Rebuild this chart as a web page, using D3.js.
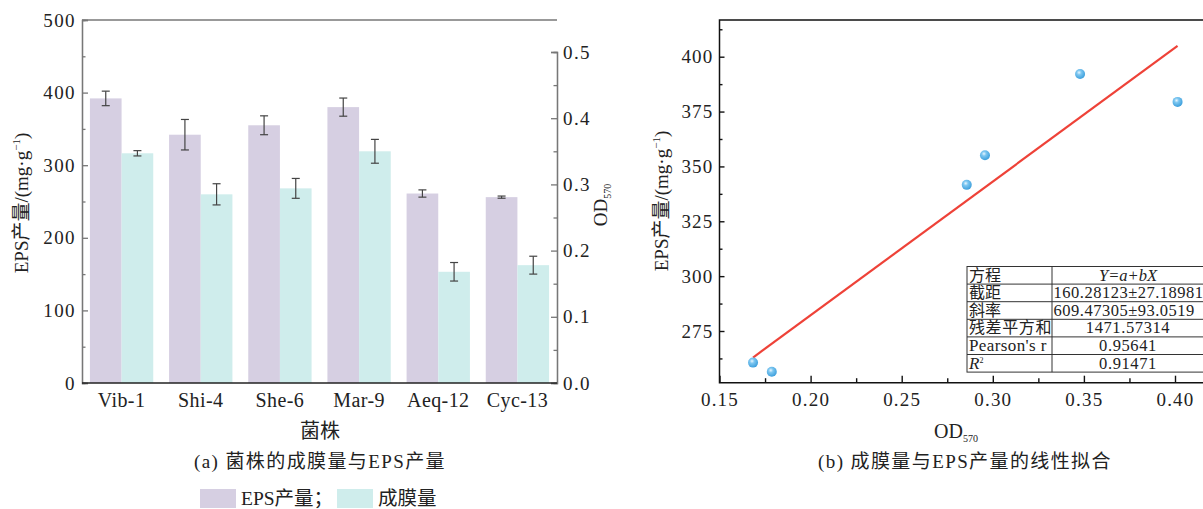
<!DOCTYPE html>
<html>
<head>
<meta charset="utf-8">
<script src="https://cdn.jsdelivr.net/npm/d3@7"></script>
<style>
body { margin: 0; background: #fff; }
svg text { font-family: "Liberation Serif", "Noto Sans CJK SC", serif; fill: #222; }
</style>
</head>
<body>
<svg width="1203" height="509"></svg>
<script>
// (a) bars
const strains = ["Vib-1", "Shi-4", "She-6", "Mar-9", "Aeq-12", "Cyc-13"];
const epsValues = [392, 342, 355, 380, 261, 256];
const epsErrors = [10, 21, 13, 12.5, 5, 1.5];
const odValues = [0.347, 0.285, 0.294, 0.350, 0.168, 0.178];
const odErrors = [0.004, 0.016, 0.015, 0.018, 0.014, 0.0135];
const epsTicks = [0, 100, 200, 300, 400, 500];
const odTicks = [0, 0.1, 0.2, 0.3, 0.4, 0.5];
const legendNames = ["EPS产量；", "成膜量"];

// (b) linear fit
const fitOD = [0.1684, 0.1787, 0.2857, 0.2957, 0.3479, 0.4014];
const fitEPS = [260.6, 256.4, 341.6, 355.1, 392.1, 379.4];
const fitIntercept = 160.28123;
const fitSlope = 609.47305;
const fitXTicks = [0.15, 0.20, 0.25, 0.30, 0.35, 0.40];
const fitYTicks = [275, 300, 325, 350, 375, 400];
const tableLabels = ["方程", "截距", "斜率", "残差平方和", "Pearson's r", "R2"];
const tableValues = ["Y=a+bX", "160.28123±27.18981", "609.47305±93.0519", "1471.57314", "0.95641", "0.91471"];

const PURPLE = "#d6cfe2";
const CYAN = "#cfedec";
const svg = d3.select("svg");

// ---------- panel (a) ----------
const aLeft = 82, aRight = 557, aTop = 20, aBottom = 383;

const x0 = d3.scaleBand().domain(strains).range([aLeft, aRight])
  .paddingInner(0.2).paddingOuter(0.1);
const x1 = d3.scaleBand().domain(["eps", "od"]).range([0, x0.bandwidth()]);
const yL = d3.scaleLinear().domain([0, 500]).range([aBottom, aTop]);
const yR = d3.scaleLinear().domain([0, 0.5]).range([aBottom, 52]);

const rows = strains.map((s, i) => ({
  s, eps: epsValues[i], epsErr: epsErrors[i], od: odValues[i], odErr: odErrors[i]
}));

const groups = svg.append("g").selectAll("g").data(rows).enter().append("g")
  .attr("transform", d => `translate(${x0(d.s)},0)`);

groups.append("rect")
  .attr("x", x1("eps")).attr("width", x1.bandwidth())
  .attr("y", d => yL(d.eps)).attr("height", d => yL(0) - yL(d.eps))
  .attr("fill", PURPLE);
groups.append("rect")
  .attr("x", x1("od")).attr("width", x1.bandwidth())
  .attr("y", d => yR(d.od)).attr("height", d => yR(0) - yR(d.od))
  .attr("fill", CYAN);

function errBar(g, cx, top, bot) {
  g.append("line").attr("x1", cx).attr("x2", cx).attr("y1", top).attr("y2", bot);
  g.append("line").attr("x1", cx - 4).attr("x2", cx + 4).attr("y1", top).attr("y2", top);
  g.append("line").attr("x1", cx - 4).attr("x2", cx + 4).attr("y1", bot).attr("y2", bot);
}
groups.each(function (d) {
  const g = d3.select(this).append("g").attr("stroke", "#444").attr("stroke-width", 1.2);
  const ce = x1("eps") + x1.bandwidth() / 2;
  const co = x1("od") + x1.bandwidth() / 2;
  errBar(g, ce, yL(d.eps + d.epsErr), yL(d.eps - d.epsErr));
  errBar(g, co, yR(d.od + d.odErr), yR(d.od - d.odErr));
});

// frame
svg.append("line").attr("x1", aLeft).attr("x2", aRight).attr("y1", aTop).attr("y2", aTop)
  .attr("stroke", "#777").attr("stroke-width", 1.3);

const axL = svg.append("g").attr("transform", `translate(${aLeft},0)`)
  .call(d3.axisLeft(yL).tickValues(epsTicks).tickSize(-6).tickPadding(6));
svg.append("g").attr("transform", `translate(${aLeft},0)`)
  .call(d3.axisLeft(yL).tickValues(d3.range(50, 500, 100)).tickSize(-3.5).tickFormat(""));
const axR = svg.append("g").attr("transform", `translate(${aRight},0)`)
  .call(d3.axisRight(yR).tickValues(odTicks).tickSize(-6).tickPadding(6).tickFormat(d3.format(".1f")));
svg.append("g").attr("transform", `translate(${aRight},0)`)
  .call(d3.axisRight(yR).tickValues(d3.range(0.05, 0.55, 0.1)).tickSize(-3.5).tickFormat(""));
svg.selectAll("g.tick line").attr("stroke", "#777").attr("stroke-width", 1.3);
svg.selectAll(".domain").attr("stroke", "#777").attr("stroke-width", 1.3);

const axB = svg.append("g").attr("transform", `translate(0,${aBottom})`)
  .call(d3.axisBottom(x0).tickSize(0).tickPadding(10));
axB.select(".domain").attr("stroke", "#222").attr("stroke-width", 1.5)
  .attr("d", `M${aLeft},0H${aRight}`);

[axL, axR].forEach(a => a.selectAll("text")
  .style("font-size", "19px").style("letter-spacing", "1.4px").attr("fill", "#222"));
axB.selectAll("text").style("font-size", "20px").style("letter-spacing", "0.4px")
  .attr("fill", "#222").attr("dy", "0.7em");

// axis titles (a)
svg.append("text").attr("x", 320).attr("y", 438).attr("text-anchor", "middle")
  .style("font-size", "20px").text("菌株");
const tL = svg.append("text").attr("transform", "translate(28,203) rotate(-90)")
  .attr("text-anchor", "middle").style("font-size", "19px");
tL.append("tspan").text("EPS产量/(mg·g");
tL.append("tspan").attr("dy", -8).style("font-size", "11px").text("−1");
tL.append("tspan").attr("dy", 8).text(")");
const tR = svg.append("text").attr("transform", "translate(607,205) rotate(-90)")
  .attr("text-anchor", "middle").style("font-size", "19px");
tR.append("tspan").text("OD");
tR.append("tspan").attr("dy", 4).style("font-size", "10px").text("570");

svg.append("text").attr("x", 320).attr("y", 468).attr("text-anchor", "middle")
  .style("font-size", "19px").style("letter-spacing", "1.4px").text("(a) 菌株的成膜量与EPS产量");

// legend
const legend = svg.append("g").selectAll("g").data(legendNames).enter().append("g")
  .attr("transform", (d, i) => `translate(${i === 0 ? 200 : 337},489)`);
legend.append("rect").attr("width", 36).attr("height", 19)
  .attr("fill", (d, i) => i === 0 ? PURPLE : CYAN);
legend.append("text").attr("x", 41).attr("y", 16).style("font-size", "19.5px").text(d => d);

// ---------- panel (b) ----------
const bLeft = 719.5, bRight = 1203, bTop = 20, bBottom = 382.7;
const xB = d3.scaleLinear().domain([0.15, 0.40]).range([bLeft, 1175]);
const yB = d3.scaleLinear().domain([275, 400]).range([331, 56.7]);

const axBL = svg.append("g").attr("transform", `translate(${bLeft},0)`)
  .call(d3.axisLeft(yB).tickValues(fitYTicks).tickSize(-5).tickPadding(6));
const axBLm = svg.append("g").attr("transform", `translate(${bLeft},0)`)
  .call(d3.axisLeft(yB).tickValues(d3.range(262.5, 416, 25)).tickSize(-3).tickFormat(""));
const axBB = svg.append("g").attr("transform", `translate(0,${bBottom})`)
  .call(d3.axisBottom(xB).tickValues(fitXTicks).tickSize(-7).tickPadding(9).tickFormat(d3.format(".2f")));
const axBBm = svg.append("g").attr("transform", `translate(0,${bBottom})`)
  .call(d3.axisBottom(xB).tickValues(d3.range(0.175, 0.44, 0.05)).tickSize(-4.5).tickFormat(""));
[axBL, axBLm, axBB, axBBm].forEach(a => {
  a.selectAll(".domain").remove();
  a.selectAll("line").attr("stroke", "#111").attr("stroke-width", 1.4);
});
[axBL, axBB].forEach(a => a.selectAll("text")
  .style("font-size", "19px").style("letter-spacing", "1.2px").attr("fill", "#222"));
axBB.selectAll("text").attr("dy", "0.75em");

svg.append("path").attr("fill", "none").attr("stroke", "#111").attr("stroke-width", 1.5)
  .attr("d", `M${bRight + 2},${bTop}H${bLeft}V${bBottom}H${bRight + 2}`);

// fit line
const xmin = d3.min(fitOD), xmax = d3.max(fitOD);
svg.append("line")
  .attr("x1", xB(xmin)).attr("y1", yB(fitIntercept + fitSlope * xmin))
  .attr("x2", xB(xmax)).attr("y2", yB(fitIntercept + fitSlope * xmax))
  .attr("stroke", "#ee4238").attr("stroke-width", 2.2);

// points
const grad = svg.append("defs").append("radialGradient").attr("id", "ball")
  .attr("cx", "40%").attr("cy", "35%").attr("r", "65%");
grad.append("stop").attr("offset", "0%").attr("stop-color", "#e8f6ff");
grad.append("stop").attr("offset", "35%").attr("stop-color", "#7cc6f0");
grad.append("stop").attr("offset", "100%").attr("stop-color", "#3d9fdc");
svg.append("g").selectAll("circle").data(fitOD).enter().append("circle")
  .attr("cx", d => xB(d)).attr("cy", (d, i) => yB(fitEPS[i])).attr("r", 5)
  .attr("fill", "url(#ball)");

// table
const tX = 967, tDiv = 1052, tTop = 266.5, rowH = 17.6;
const tab = svg.append("g");
tab.append("rect").attr("x", tX).attr("y", tTop).attr("width", 250).attr("height", rowH * tableLabels.length)
  .attr("fill", "#fff").attr("stroke", "#333").attr("stroke-width", 1);
tab.selectAll("line.h").data(d3.range(1, tableLabels.length)).enter().append("line")
  .attr("x1", tX).attr("x2", 1217).attr("y1", d => tTop + d * rowH).attr("y2", d => tTop + d * rowH)
  .attr("stroke", "#333");
tab.append("line").attr("x1", tDiv).attr("x2", tDiv).attr("y1", tTop).attr("y2", tTop + rowH * tableLabels.length)
  .attr("stroke", "#333");
tableLabels.forEach((lab, i) => {
  const y = tTop + (i + 1) * rowH - 3.5;
  const t = tab.append("text").attr("x", tX + 2).attr("y", y).style("font-size", "17px");
  if (lab === "R2") {
    t.append("tspan").style("font-style", "italic").text("R");
    t.append("tspan").attr("dy", -6).style("font-size", "8px").text("2");
  } else if (/[A-Za-z]/.test(lab)) {
    t.style("letter-spacing", "0.4px").text(lab);
  } else {
    t.style("font-size", "16px").style("letter-spacing", lab.length > 3 ? "0.6px" : "0px").text(lab);
  }
  const v = tab.append("text").attr("y", y).style("font-size", "16.5px");
  if (i === 0) {
    v.attr("x", 1128).attr("text-anchor", "middle").style("font-style", "italic").text(tableValues[i]);
  } else if (tableValues[i].length > 12) {
    v.attr("x", tDiv + 1.5).style("letter-spacing", "0.5px").text(tableValues[i]);
  } else {
    v.attr("x", 1128).attr("text-anchor", "middle").style("letter-spacing", "0.6px").text(tableValues[i]);
  }
});

// axis titles (b)
const tBX = svg.append("text").attr("x", 956).attr("y", 438).attr("text-anchor", "middle")
  .style("font-size", "20px");
tBX.append("tspan").text("OD");
tBX.append("tspan").attr("dy", 4).style("font-size", "10px").text("570");
const tBY = svg.append("text").attr("transform", "translate(668,201) rotate(-90)")
  .attr("text-anchor", "middle").style("font-size", "19px");
tBY.append("tspan").text("EPS产量/(mg·g");
tBY.append("tspan").attr("dy", -8).style("font-size", "11px").text("−1");
tBY.append("tspan").attr("dy", 8).text(")");

svg.append("text").attr("x", 965).attr("y", 468).attr("text-anchor", "middle")
  .style("font-size", "19px").style("letter-spacing", "1.4px").text("(b) 成膜量与EPS产量的线性拟合");
</script>
</body>
</html>
